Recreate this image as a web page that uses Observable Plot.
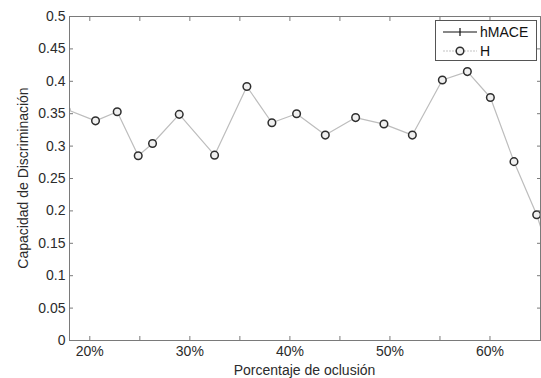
<!DOCTYPE html>
<html>
<head>
<meta charset="utf-8">
<script src="https://cdn.jsdelivr.net/npm/d3@7"></script>
<script src="https://cdn.jsdelivr.net/npm/@observablehq/plot@0.6"></script>
<style>
  html, body { margin: 0; padding: 0; background: #fff; }
  #chart { width: 541px; height: 378px; }
</style>
</head>
<body>
<div id="chart"></div>
<script>
// Occlusion percentage (x) and discrimination capacity for series H
const occlusion = [17.6, 20.57, 22.74, 24.84, 26.27, 28.94, 32.47, 35.7, 38.2, 40.67, 43.54, 46.57, 49.4, 52.24, 55.24, 57.74, 60.04, 62.4, 64.67, 66.5];
const seriesH   = [0.357, 0.339, 0.353, 0.285, 0.304, 0.349, 0.286, 0.392, 0.336, 0.350, 0.317, 0.344, 0.334, 0.317, 0.402, 0.415, 0.375, 0.276, 0.194, 0.106];
const xTicks = [20, 25, 30, 35, 40, 45, 50, 55, 60];
const yTicks = [0, 0.05, 0.1, 0.15, 0.2, 0.25, 0.3, 0.35, 0.4, 0.45, 0.5];
const legendLabels = ["hMACE", "H"];
const xTitle = "Porcentaje de oclusión";
const yTitle = "Capacidad de Discriminación";

const data = occlusion.map((x, i) => ({x, v: seriesH[i]}));

const W = 541, H = 378;
const mL = 69, mR = 1, mT = 16, mB = 38;
const axisColor = "#7a7a7a";
const textColor = "#2b2b2b";

const xLabel = d => (d % 10 === 0 ? d + "%" : "");
const yLabel = d => String(+d.toFixed(2));

const plot = Plot.plot({
  width: W, height: H,
  marginLeft: mL, marginRight: mR, marginTop: mT, marginBottom: mB,
  style: {fontFamily: "'Liberation Sans', Arial, sans-serif", fontSize: "14px", color: textColor, background: "#fff", overflow: "visible"},
  x: {domain: [17.97, 65.05]},
  y: {domain: [0, 0.5]},
  marks: [
    Plot.line(data, {x: "x", y: "v", stroke: "#bdbdbd", strokeWidth: 1.2, clip: true}),
    Plot.dot(data, {x: "x", y: "v", r: 3.8, stroke: "#2e2e2e", strokeWidth: 1.5, fill: "#f0f0f0", clip: true}),
    Plot.frame({stroke: axisColor, strokeWidth: 1}),
    Plot.axisX({anchor: "bottom", ticks: xTicks, tickSize: -4, tickPadding: 10, tickFormat: xLabel, label: null, stroke: axisColor, fill: textColor}),
    Plot.axisX({anchor: "top", ticks: xTicks, tickSize: -4, tickFormat: () => "", label: null, stroke: axisColor}),
    Plot.axisY({anchor: "left", ticks: yTicks, tickSize: -4, tickPadding: 8, tickFormat: yLabel, label: null, stroke: axisColor, fill: textColor}),
    Plot.axisY({anchor: "right", ticks: yTicks, tickSize: -4, tickFormat: () => "", label: null, stroke: axisColor})
  ]
});

document.getElementById("chart").appendChild(plot);

const svg = d3.select(plot);
const font = "'Liberation Sans', Arial, sans-serif";

// axis titles
svg.append("text")
  .attr("x", (mL + W - mR) / 2).attr("y", 375)
  .attr("text-anchor", "middle").attr("font-family", font).attr("font-size", 14)
  .attr("fill", textColor).text(xTitle);
svg.append("text")
  .attr("transform", `translate(28,${(mT + H - mB) / 2}) rotate(-90)`)
  .attr("text-anchor", "middle").attr("font-family", font).attr("font-size", 14)
  .attr("fill", textColor).text(yTitle);

// legend box
const lg = svg.append("g").attr("text-anchor", "start");
lg.append("rect").attr("x", 435.5).attr("y", 20.5).attr("width", 101).attr("height", 40)
  .attr("fill", "#fff").attr("stroke", "#555").attr("stroke-width", 1);
// hMACE entry
lg.append("line").attr("x1", 443).attr("x2", 477).attr("y1", 32).attr("y2", 32).attr("stroke", "#111").attr("stroke-width", 1.2);
lg.append("line").attr("x1", 460).attr("x2", 460).attr("y1", 28).attr("y2", 36).attr("stroke", "#111").attr("stroke-width", 1.2);
lg.append("text").attr("x", 480).attr("y", 37).attr("text-anchor", "start").attr("font-family", font).attr("font-size", 14).attr("fill", "#111").text(legendLabels[0]);
// H entry
lg.append("line").attr("x1", 443).attr("x2", 477).attr("y1", 51).attr("y2", 51).attr("stroke", "#c4c4c4").attr("stroke-width", 1.2).attr("stroke-dasharray", "2,1");
lg.append("circle").attr("cx", 460).attr("cy", 51).attr("r", 3.8).attr("fill", "#f0f0f0").attr("stroke", "#2e2e2e").attr("stroke-width", 1.5);
lg.append("text").attr("x", 480).attr("y", 56).attr("text-anchor", "start").attr("font-family", font).attr("font-size", 14).attr("fill", "#111").text(legendLabels[1]);
</script>
</body>
</html>
